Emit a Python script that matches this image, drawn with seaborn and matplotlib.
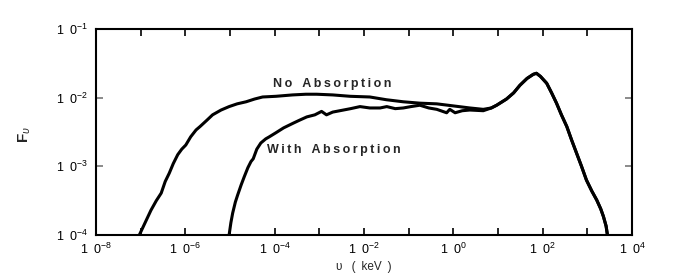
import numpy as np
import pandas as pd
import matplotlib
matplotlib.use("Agg")
import matplotlib.pyplot as plt
import seaborn as sns

# ---- data (log10 values) ----
no_abs_logx = [-7.03, -6.9, -6.77, -6.65, -6.54, -6.45, -6.36, -6.27, -6.17, -6.08, -5.99,
               -5.88, -5.76, -5.67, -5.52, -5.39, -5.2, -5.02, -4.84, -4.64, -4.45, -4.27,
               -3.97, -3.6, -3.3, -3.06, -2.7, -2.31, -1.87, -1.5, -1.12, -0.75, -0.37, 0.0,
               0.37, 0.67, 0.85, 0.97, 1.19, 1.35, 1.49, 1.65, 1.79, 1.86, 1.95, 2.09, 2.2,
               2.31, 2.42, 2.54, 2.65, 2.76, 2.87, 2.98, 3.1, 3.21, 3.3, 3.36, 3.42, 3.45]
no_abs_logy = [-4.0, -3.82, -3.64, -3.5, -3.39, -3.22, -3.1, -2.96, -2.83, -2.75, -2.69,
               -2.57, -2.47, -2.42, -2.33, -2.25, -2.18, -2.13, -2.09, -2.06, -2.02, -1.99,
               -1.98, -1.96, -1.95, -1.95, -1.96, -1.98, -1.99, -2.03, -2.06, -2.08, -2.09, -2.12,
               -2.15, -2.17, -2.15, -2.11, -2.02, -1.93, -1.82, -1.72, -1.66, -1.645, -1.69, -1.79, -1.93,
               -2.08, -2.25, -2.42, -2.62, -2.81, -3.0, -3.2, -3.36, -3.49, -3.62, -3.73, -3.87, -4.0]

with_abs_logx = [-5.02, -4.98, -4.94, -4.88, -4.83, -4.75, -4.68, -4.6, -4.53, -4.48, -4.4,
                 -4.31, -4.2, -4.12, -3.97, -3.8, -3.58, -3.45, -3.28, -3.1, -2.95, -2.84,
                 -2.7, -2.54, -2.3, -2.09, -1.87, -1.64, -1.49, -1.3, -1.12, -0.95, -0.75,
                 -0.55, -0.37, -0.15, -0.08, 0.04, 0.2, 0.37, 0.67, 0.85,
                 0.97, 1.19, 1.35, 1.49, 1.65, 1.79, 1.86, 1.95, 2.09, 2.2,
                 2.31, 2.42, 2.54, 2.65, 2.76, 2.87, 2.98, 3.1, 3.21, 3.3, 3.36, 3.42, 3.45]
with_abs_logy = [-4.0, -3.82, -3.68, -3.52, -3.42, -3.27, -3.15, -3.02, -2.93, -2.89, -2.75,
                 -2.66, -2.6, -2.57, -2.51, -2.44, -2.37, -2.33, -2.28, -2.25, -2.2, -2.25,
                 -2.21, -2.19, -2.16, -2.13, -2.15, -2.15, -2.13, -2.16, -2.15, -2.13, -2.11,
                 -2.15, -2.17, -2.22, -2.17, -2.22, -2.19, -2.18, -2.19, -2.15,
                 -2.11, -2.02, -1.93, -1.82, -1.72, -1.66, -1.645, -1.69, -1.79, -1.93,
                 -2.08, -2.25, -2.42, -2.62, -2.81, -3.0, -3.2, -3.36, -3.49, -3.62, -3.73, -3.87, -4.0]

G = '\u2002'
x_ticks = [1e-8, 1e-7, 1e-6, 1e-5, 1e-4, 1e-3, 1e-2, 1e-1, 1e0, 1e1, 1e2, 1e3, 1e4]
x_tick_labels = ['1' + G + '0$^{-8}$', '', '1' + G + '0$^{-6}$', '', '1' + G + '0$^{-4}$', '',
                 '1' + G + '0$^{-2}$', '', '1' + G + '0$^{0}$', '', '1' + G + '0$^{2}$', '',
                 '1' + G + '0$^{4}$']
y_ticks = [1e-4, 1e-3, 1e-2, 1e-1]
y_tick_labels = ['1' + G + '0$^{-4}$', '1' + G + '0$^{-3}$', '1' + G + '0$^{-2}$', '1' + G + '0$^{-1}$']

df = pd.concat([
    pd.DataFrame({'x': np.power(10.0, no_abs_logx), 'y': np.power(10.0, no_abs_logy),
                  'series': 'No Absorption'}),
    pd.DataFrame({'x': np.power(10.0, with_abs_logx), 'y': np.power(10.0, with_abs_logy),
                  'series': 'With Absorption'}),
])

sns.set_style("ticks")
plt.rcParams['font.family'] = ['Liberation Sans', 'DejaVu Sans']
plt.rcParams['mathtext.fontset'] = 'custom'
plt.rcParams['mathtext.rm'] = 'Liberation Sans'
plt.rcParams['mathtext.it'] = 'Liberation Sans:italic'
plt.rcParams['mathtext.bf'] = 'Liberation Sans:bold'

fig = plt.figure(figsize=(6.92, 2.77), dpi=100)
ax = fig.add_axes([96/692, 1-235/277, (632-96)/692, (235-29)/277])

sns.lineplot(data=df, x='x', y='y', hue='series', palette=['black', 'black'],
             sort=False, estimator=None, units='series', linewidth=2.2, legend=False, ax=ax)

ax.set_xscale('log')
ax.set_yscale('log')
ax.set_xlim(1e-8, 1e4)
ax.set_ylim(1e-4, 1e-1)
ax.set_xticks(x_ticks)
ax.set_xticklabels(x_tick_labels)
ax.set_yticks(y_ticks)
ax.set_yticklabels(y_tick_labels)
ax.minorticks_off()
ax.tick_params(axis='both', which='major', direction='in', length=5, width=1.2,
               top=True, right=True, labelsize=9, colors='black')
ax.tick_params(axis='y', color='#777777', pad=6)
ax.tick_params(axis='x', pad=5)
for s in ax.spines.values():
    s.set_linewidth(1.5)
    s.set_color('black')

ax.set_xlabel('υ ' + G + '(' + G + 'keV' + G + ')', fontsize=8.5, labelpad=3)
ax.set_ylabel('')
fig.text(25/692, 1-135/277, r'$\mathbf{F}_{\upsilon}$', rotation=90, fontsize=11,
         ha='center', va='center')

sp = '\u2009'
ax.text(10**(-8 + (273-96)/44.67), 10**(-1 - (84-29)/68.67), sp.join('No') + '   ' + sp.join('Absorption'),
        fontsize=9, fontweight='bold', ha='left', va='center')
ax.text(10**(-8 + (267-96)/44.67), 10**(-1 - (150-29)/68.67), sp.join('With') + '   ' + sp.join('Absorption'),
        fontsize=9, fontweight='bold', ha='left', va='center')

fig.savefig('out.png', dpi=100)
